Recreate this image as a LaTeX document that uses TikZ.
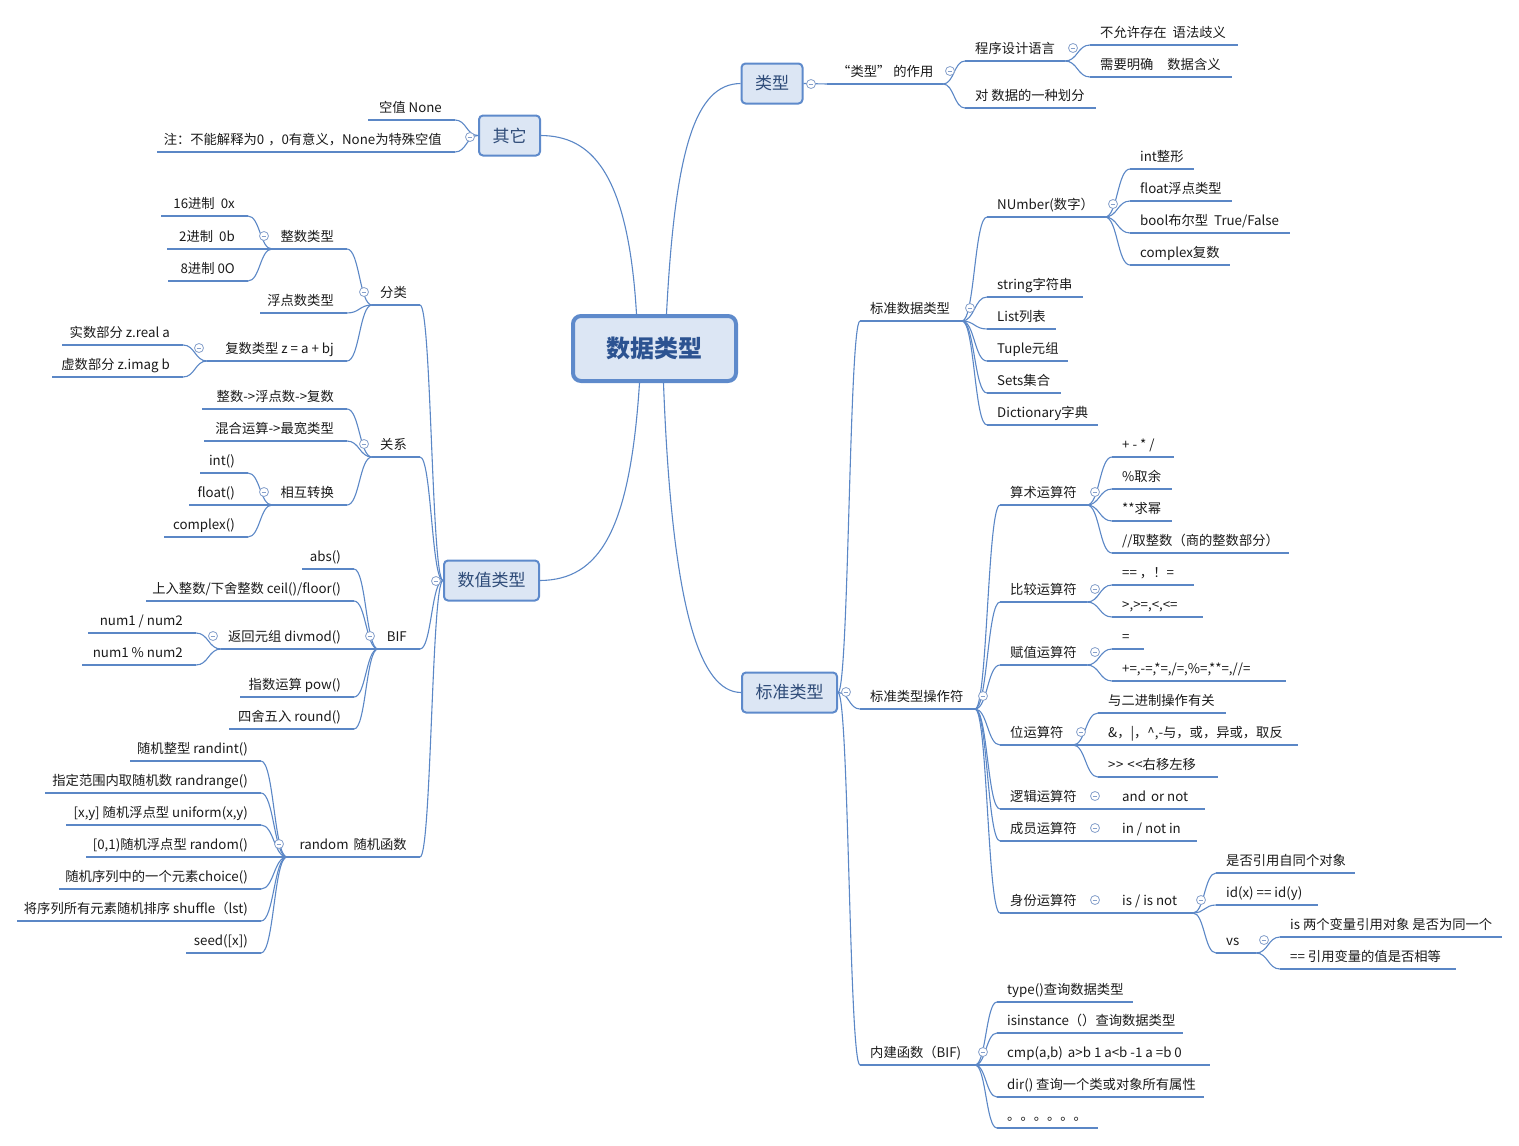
\documentclass[tikz,border=0pt]{standalone}
\usepackage{fontspec}
\setmainfont{Noto Sans CJK SC}
\usetikzlibrary{calc}
\definecolor{ulc}{HTML}{5B87C6}
\definecolor{boxfill}{HTML}{DCE6F4}
\definecolor{boxdraw}{HTML}{5E8ACB}
\definecolor{circc}{HTML}{86A0CB}
\definecolor{leaftxt}{HTML}{1A1A1A}
\definecolor{boxtxt}{HTML}{2E4B78}
\definecolor{ctrtxt}{HTML}{2C5391}
\tikzset{
  uline/.style={draw=ulc, line width=2.8pt, line cap=butt},
  conn/.style={draw=ulc, line width=1.1pt},
  leaf/.style={font=\fontsize{13.3}{15}\selectfont, text=leaftxt, inner sep=0pt},
  mbox/.style={draw=boxdraw, fill=boxfill, line width=2pt, rounded corners=4pt,
    font=\fontsize{17}{19}\selectfont, text=boxtxt, inner sep=0pt},
  ctrbox/.style={draw=boxdraw, fill=boxfill, line width=4pt, rounded corners=8pt,
    font=\fontsize{24}{26}\selectfont\bfseries, text=ctrtxt, inner sep=0pt},
  colm/.style={draw=circc, line width=0.8pt, fill=white}
}
\newcommand\RLeaf[5]{%
  \coordinate (#1-l) at (#2,#4);
  \coordinate (#1-r) at (#3,#4);
  \draw[uline] (#1-l) -- (#1-r);
  \node[leaf, anchor=base west] (#1) at ({#2+10},{#4-8}) {#5};
}
\newcommand\LLeaf[5]{%
  \coordinate (#1-l) at (#2,#4);
  \coordinate (#1-r) at (#3,#4);
  \draw[uline] (#1-l) -- (#1-r);
  \node[leaf, anchor=base east] (#1) at ({#3-13},{#4-8}) {#5};
}
\newcommand\br[2]{\draw[conn] let \p1=(#1), \p2=(#2) in (\p1) .. controls ({(\x1+\x2)/2},\y1) and ({(\x1+\x2)/2},\y2) .. (\p2);}
\newcommand\colmark[2]{\draw[colm] (#1,#2) circle[radius=4.5pt]; \draw[draw=circc, line width=0.8pt] ({#1-2.4},#2) -- ({#1+2.4},#2);}
\begin{document}
\begin{tikzpicture}[x=1pt, y=-1pt]
\useasboundingbox (0,0) rectangle (1519,1146);

% ---------- main boxes ----------
\node[ctrbox, minimum width=163pt, minimum height=65pt] (ctr) at (654.5,348.5) {数据类型};
\node[mbox, minimum width=61pt, minimum height=40pt] (lx) at (772,83.5) {类型};
\node[mbox, minimum width=61pt, minimum height=40pt] (qt) at (509.5,135.5) {其它};
\node[mbox, minimum width=95pt, minimum height=40pt] (sz) at (491.5,580.5) {数值类型};
\node[mbox, minimum width=95pt, minimum height=40pt] (bz) at (789.5,692.5) {标准类型};

% ---------- center connectors ----------
\draw[conn] ([xshift=12pt]ctr.north) .. controls (675,150) and (695,84) .. (lx.west);
\draw[conn] ([xshift=-18pt]ctr.north) .. controls (628,170) and (590,136) .. (qt.east);
\draw[conn] ([xshift=-15pt]ctr.south) .. controls (630,530) and (600,580) .. (sz.east);
\draw[conn] ([xshift=9pt]ctr.south) .. controls (672,610) and (700,692) .. (bz.west);

% ---------- 类型 ----------
\RLeaf{zy}{827}{943}{84}{“类型”\hspace{3pt}的作用}
\RLeaf{cx}{965}{1065}{61}{程序设计语言}
\RLeaf{by}{1090}{1238}{45}{不允许存在\hspace{6pt}语法歧义}
\RLeaf{xy}{1090}{1232}{77}{需要明确\hspace{14pt}数据含义}
\RLeaf{hf}{965}{1096}{108}{对 数据的一种划分}
\draw[conn] (lx.east) -- (zy-l);
\br{zy-r}{cx-l}
\br{zy-r}{hf-l}
\br{cx-r}{by-l}
\br{cx-r}{xy-l}

% ---------- 标准类型 ----------
\RLeaf{bs}{860}{962}{321}{标准数据类型}
\RLeaf{num}{987}{1105}{217}{NUmber(数字）}
\RLeaf{na}{1130}{1194}{169}{int整形}
\RLeaf{nb}{1130}{1232}{201}{float浮点类型}
\RLeaf{nc}{1130}{1290}{233}{bool布尔型\hspace{6pt}True/False}
\RLeaf{nd}{1130}{1230}{265}{complex复数}
\RLeaf{st}{987}{1083}{297}{string字符串}
\RLeaf{li}{987}{1056}{329}{List列表}
\RLeaf{tu}{987}{1068}{361}{Tuple元组}
\RLeaf{se}{987}{1061}{393}{Sets集合}
\RLeaf{di}{987}{1098}{425}{Dictionary字典}

\RLeaf{bo}{860}{975}{709}{标准类型操作符}
\RLeaf{ss}{1000}{1087}{505}{算术运算符}
\RLeaf{sa}{1112}{1174}{457}{+ - * /}
\RLeaf{sb}{1112}{1172}{489}{\%取余}
\RLeaf{sc}{1112}{1172}{521}{**求幂}
\RLeaf{sd}{1112}{1289}{553}{//取整数（商的整数部分）}
\RLeaf{bj}{1000}{1087}{602}{比较运算符}
\RLeaf{ba}{1112}{1194}{585}{==\hspace{3pt}，！=}
\RLeaf{bb}{1112}{1203}{617}{>,>=,<,<=}
\RLeaf{fz}{1000}{1087}{665}{赋值运算符}
\RLeaf{fa}{1112}{1144}{649}{=}
\RLeaf{fb}{1112}{1286}{681}{+=,-=,*=,/=,\%=,**=,//=}
\RLeaf{wy}{1000}{1073}{745}{位运算符}
\RLeaf{wa}{1098}{1226}{713}{与二进制操作有关}
\RLeaf{wb}{1098}{1298}{745}{\&，|，\textasciicircum,-与，或，异或，取反}
\RLeaf{wc}{1098}{1218}{777}{>\kern0.5pt>\hspace{4pt}<\kern0.5pt<右移左移}
\RLeaf{lj}{1000}{1087}{809}{逻辑运算符}
\RLeaf{ao}{1112}{1205}{809}{and\hspace{5pt}or not}
\RLeaf{cy}{1000}{1087}{841}{成员运算符}
\RLeaf{mi}{1112}{1197}{841}{in / not in}
\RLeaf{sf}{1000}{1087}{913}{身份运算符}
\RLeaf{isn}{1112}{1193}{913}{is / is not}
\RLeaf{ia}{1216}{1355}{873}{是否引用自同个对象}
\RLeaf{ib}{1216}{1318}{905}{id(x) == id(y)}
\RLeaf{vs}{1216}{1256}{953}{vs}
\RLeaf{va}{1280}{1502}{937}{is 两个变量引用对象 是否为同一个}
\RLeaf{vb}{1280}{1456}{969}{== 引用变量的值是否相等}

\RLeaf{nj}{860}{975}{1065}{内建函数（BIF)}
\RLeaf{ta}{997}{1133}{1002}{type()查询数据类型}
\RLeaf{tb}{997}{1183}{1033}{isinstance（）查询数据类型}
\RLeaf{tc}{997}{1210}{1065}{cmp(a,b)\hspace{5pt}a>b 1 a<b -1 a =b 0}
\RLeaf{td}{997}{1204}{1097}{dir() 查询一个类或对象所有属性}
\RLeaf{te}{997}{1098}{1128}{。。。。。。}

\br{bz.east}{bs-l}
\br{bz.east}{bo-l}
\br{bz.east}{nj-l}
\br{bs-r}{num-l}
\br{bs-r}{st-l}
\br{bs-r}{li-l}
\br{bs-r}{tu-l}
\br{bs-r}{se-l}
\br{bs-r}{di-l}
\br{num-r}{na-l}
\br{num-r}{nb-l}
\br{num-r}{nc-l}
\br{num-r}{nd-l}
\br{bo-r}{ss-l}
\br{bo-r}{bj-l}
\br{bo-r}{fz-l}
\br{bo-r}{wy-l}
\br{bo-r}{lj-l}
\br{bo-r}{cy-l}
\br{bo-r}{sf-l}
\br{ss-r}{sa-l}
\br{ss-r}{sb-l}
\br{ss-r}{sc-l}
\br{ss-r}{sd-l}
\br{bj-r}{ba-l}
\br{bj-r}{bb-l}
\br{fz-r}{fa-l}
\br{fz-r}{fb-l}
\br{wy-r}{wa-l}
\br{wy-r}{wb-l}
\br{wy-r}{wc-l}
\br{lj-r}{ao-l}
\br{cy-r}{mi-l}
\br{sf-r}{isn-l}
\br{isn-r}{ia-l}
\br{isn-r}{ib-l}
\br{isn-r}{vs-l}
\br{vs-r}{va-l}
\br{vs-r}{vb-l}
\br{nj-r}{ta-l}
\br{nj-r}{tb-l}
\br{nj-r}{tc-l}
\br{nj-r}{td-l}
\br{nj-r}{te-l}

% ---------- 其它 ----------
\LLeaf{kz}{368}{455}{120}{空值 None}
\LLeaf{zh}{157}{455}{152}{注：不能解释为0\hspace{4pt}，0有意义，None为特殊空值}
\br{qt.west}{kz-r}
\br{qt.west}{zh-r}

% ---------- 数值类型 ----------
\LLeaf{fl}{372}{420}{305}{分类}
\LLeaf{zs}{272}{347}{249}{整数类型}
\LLeaf{za}{161}{248}{216}{16进制\hspace{6pt}0x}
\LLeaf{zb}{167}{248}{249}{2进制\hspace{6pt}0b}
\LLeaf{zc}{168}{248}{281}{8进制 0O}
\LLeaf{fd}{260}{347}{313}{浮点数类型}
\LLeaf{fs}{207}{347}{361}{复数类型 z = a + bj}
\LLeaf{fsa}{62}{183}{345}{实数部分 z.real a}
\LLeaf{fsb}{52}{183}{377}{虚数部分 z.imag b}

\LLeaf{gx}{372}{420}{457}{关系}
\LLeaf{ga}{202}{347}{409}{整数->浮点数->复数}
\LLeaf{gb}{204}{347}{441}{混合运算->最宽类型}
\LLeaf{hz}{272}{347}{505}{相互转换}
\LLeaf{ha}{200}{248}{473}{int()}
\LLeaf{hb}{189}{248}{505}{float()}
\LLeaf{hc}{164}{248}{537}{complex()}

\LLeaf{bif}{378}{420}{649}{BIF}
\LLeaf{aa}{302}{354}{569}{abs()}
\LLeaf{ab}{146}{354}{601}{上入整数/下舍整数 ceil()/floor()}
\LLeaf{dm}{221}{354}{649}{返回元组 divmod()}
\LLeaf{da}{88}{196}{633}{num1 / num2}
\LLeaf{db}{82}{196}{665}{num1 \% num2}
\LLeaf{ac}{240}{354}{697}{指数运算 pow()}
\LLeaf{ad}{229}{354}{729}{四舍五入 round()}

\LLeaf{rd}{287}{420}{857}{random\hspace{5pt}随机函数}
\LLeaf{ra}{130}{261}{761}{随机整型 randint()}
\LLeaf{rb}{45}{261}{793}{指定范围内取随机数 randrange()}
\LLeaf{rc}{66}{261}{825}{[x,y] 随机浮点型 uniform(x,y)}
\LLeaf{re}{86}{261}{857}{[0,1)随机浮点型 random()}
\LLeaf{rf}{59}{261}{889}{随机序列中的一个元素choice()}
\LLeaf{rg}{17}{261}{921}{将序列所有元素随机排序 shuffle（lst)}
\LLeaf{rh}{186}{261}{953}{seed([x])}

\br{sz.west}{fl-r}
\br{sz.west}{gx-r}
\br{sz.west}{bif-r}
\br{sz.west}{rd-r}
\br{fl-l}{zs-r}
\br{fl-l}{fd-r}
\br{fl-l}{fs-r}
\br{zs-l}{za-r}
\br{zs-l}{zb-r}
\br{zs-l}{zc-r}
\br{fs-l}{fsa-r}
\br{fs-l}{fsb-r}
\br{gx-l}{ga-r}
\br{gx-l}{gb-r}
\br{gx-l}{hz-r}
\br{hz-l}{ha-r}
\br{hz-l}{hb-r}
\br{hz-l}{hc-r}
\br{bif-l}{aa-r}
\br{bif-l}{ab-r}
\br{bif-l}{dm-r}
\br{bif-l}{ac-r}
\br{bif-l}{ad-r}
\br{dm-l}{da-r}
\br{dm-l}{db-r}
\br{rd-l}{ra-r}
\br{rd-l}{rb-r}
\br{rd-l}{rc-r}
\br{rd-l}{re-r}
\br{rd-l}{rf-r}
\br{rd-l}{rg-r}
\br{rd-l}{rh-r}

% ---------- collapse markers ----------
\colmark{811}{84}
\colmark{470}{137}
\colmark{436}{581}
\colmark{846}{692}
\colmark{950}{71}
\colmark{1073}{48}
\colmark{970}{308}
\colmark{1113}{204}
\colmark{983}{696}
\colmark{1095}{492}
\colmark{1095}{589}
\colmark{1095}{652}
\colmark{1081}{732}
\colmark{1095}{796}
\colmark{1095}{828}
\colmark{1095}{900}
\colmark{1201}{900}
\colmark{1264}{940}
\colmark{983}{1052}
\colmark{364}{292}
\colmark{264}{236}
\colmark{199}{348}
\colmark{364}{444}
\colmark{264}{492}
\colmark{370}{636}
\colmark{213}{636}
\colmark{279}{844}
\end{tikzpicture}
\end{document}
